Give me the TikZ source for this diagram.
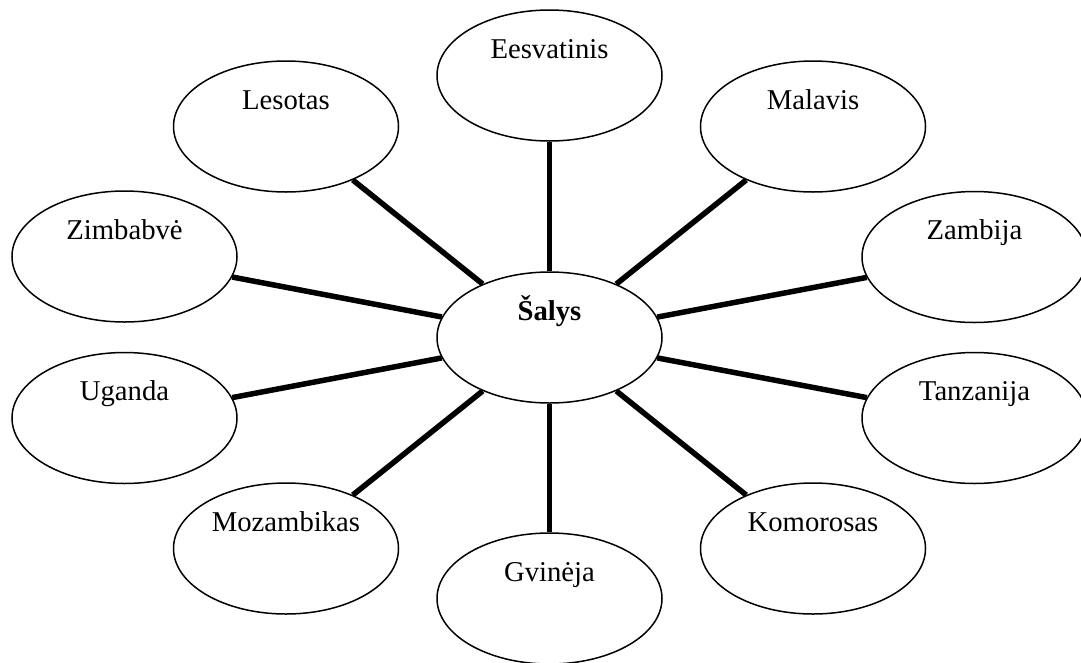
\documentclass[tikz,border=0pt]{standalone}
\usepackage{fontspec}
\setmainfont{Liberation Serif}
\usetikzlibrary{shapes.geometric}
\newcommand\toplab[1]{\smash{\raisebox{17.5pt}{#1}}}
\begin{document}
\begin{tikzpicture}[x=1pt,y=-1pt,
  country/.style={ellipse, draw, line width=1.5pt, fill=white,
    minimum width=225pt, minimum height=131pt, inner sep=0pt,
    font=\fontsize{28.7}{34}\selectfont},
  link/.style={line width=5.5pt}]
\useasboundingbox (0,0) rectangle (1081,662);
\clip (0,0) rectangle (1081,662);
\node[country] (c)  at (549.5,337.5) {\toplab{\textbf{Šalys}}};
\node[country] (es) at (549.5,75.5)  {\toplab{Eesvatinis}};
\node[country] (le) at (286,126.5)   {\toplab{Lesotas}};
\node[country] (ma) at (813,126.5)   {\toplab{Malavis}};
\node[country] (zi) at (124.5,256.5) {\toplab{Zimbabvė}};
\node[country] (za) at (974.5,257)   {\toplab{Zambija}};
\node[country] (ug) at (124.5,418)   {\toplab{Uganda}};
\node[country] (ta) at (974.5,418)   {\toplab{Tanzanija}};
\node[country] (mo) at (286,548.5)   {\toplab{Mozambikas}};
\node[country] (ko) at (813,548.5)   {\toplab{Komorosas}};
\node[country] (gv) at (549.5,598.5) {\toplab{Gvinėja}};
\foreach \n in {es,le,ma,zi,za,ug,ta,mo,ko,gv}
  \draw[link] (c) -- (\n);
\end{tikzpicture}
\end{document}
